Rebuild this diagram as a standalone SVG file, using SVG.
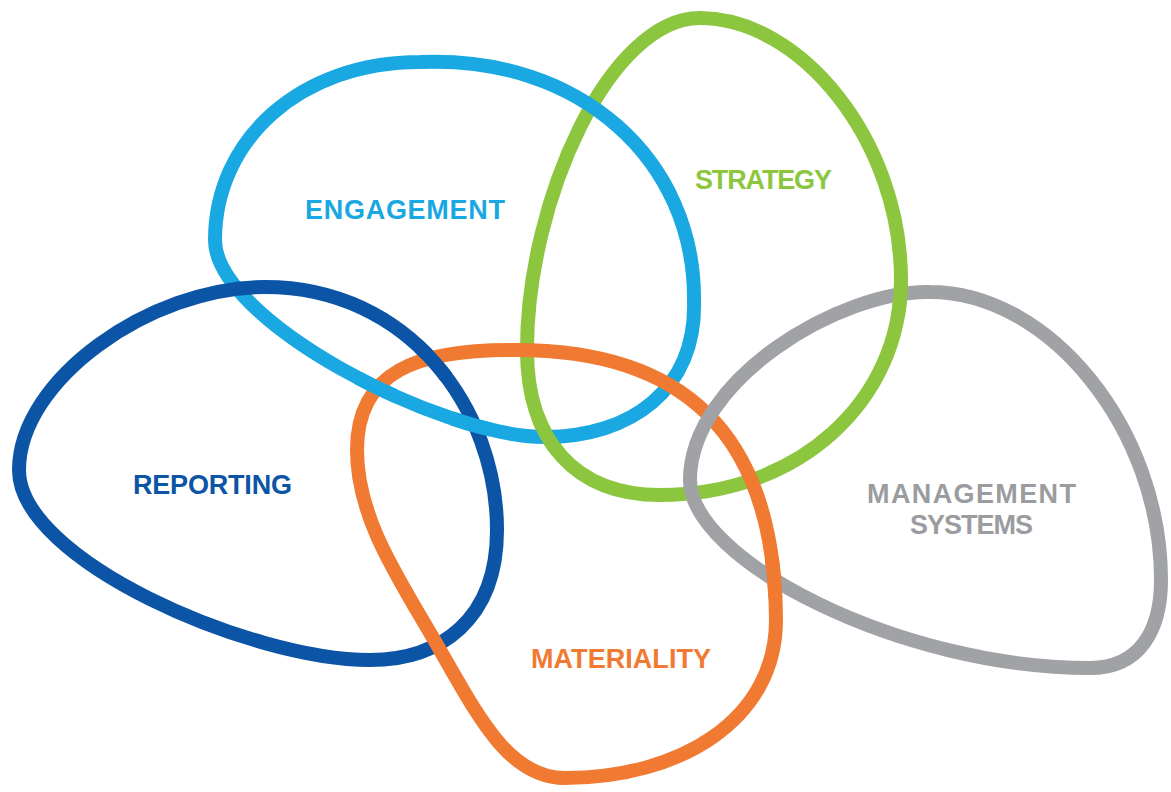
<svg xmlns="http://www.w3.org/2000/svg" xmlns:xlink="http://www.w3.org/1999/xlink" width="1171" height="792" viewBox="0 0 1171 792">
  <style>
    .loop { fill: none; stroke-width: 14; stroke-linejoin: round; }
    .eng { stroke: #19a8e1; }
    .rep { stroke: #0c54a5; }
    .str { stroke: #8cc63f; }
    .mat { stroke: #f17a32; }
    .man { stroke: #a0a2a5; }
    .lbl { font-family: "Liberation Sans", Arial, sans-serif; font-weight: 700; font-size: 27px; }
  </style>
  <defs>
    <path id="p-eng" d="M 420,62 C 580,55 695,160 694,300 C 697,390 630,437 545,437 C 440,437 215,320 215,240 C 215,140 300,62 420,62 Z"/>
    <path id="p-rep" d="M 265,287 C 410,287 497,410 497,530 C 497,620 440,660 370,660 C 250,660 19,560 19,470 C 19,380 150,287 265,287 Z"/>
    <path id="p-str" d="M 700,18 C 610,18 527,200 527,350 C 527,440 575,495 660,495 C 800,495 901,400 901,280 C 901,140 800,18 700,18 Z"/>
    <path id="p-mat" d="M 510,350 C 680,348 775,430 776,620 C 776,720 680,778 565,778 C 510,778 480,720 440,650 C 400,580 357,520 357,450 C 357,370 420,350 510,350 Z"/>
    <path id="p-man" d="M 930,292 C 840,290 690,380 690,480 C 690,560 900,668 1090,668 C 1140,668 1161,630 1161,580 C 1161,430 1050,292 930,292 Z"/>
    <clipPath id="x1"><circle cx="472" cy="424" r="22"/></clipPath>
    <clipPath id="x2"><circle cx="376" cy="388" r="22"/></clipPath>
    <clipPath id="x3"><circle cx="436" cy="359" r="22"/></clipPath>
    <clipPath id="x4"><circle cx="546" cy="435" r="22"/></clipPath>
    <clipPath id="x5"><circle cx="774" cy="578" r="22"/></clipPath>
    <clipPath id="x6"><circle cx="900" cy="295" r="22"/></clipPath>
  </defs>
  <rect width="1171" height="792" fill="#ffffff"/>

  <g id="strategy">
    <use href="#p-str" class="loop str"/>
    <text class="lbl" x="695" y="189" fill="#8cc63f" textLength="137" lengthAdjust="spacing">STRATEGY</text>
  </g>
  <g id="engagement">
    <use href="#p-eng" class="loop eng"/>
    <text class="lbl" x="305" y="219" fill="#19a8e1" textLength="200" lengthAdjust="spacing">ENGAGEMENT</text>
  </g>
  <g id="reporting">
    <use href="#p-rep" class="loop rep"/>
    <text class="lbl" x="133" y="494" fill="#0c54a5" textLength="159" lengthAdjust="spacing">REPORTING</text>
  </g>
  <g id="materiality">
    <use href="#p-mat" class="loop mat"/>
    <text class="lbl" x="531" y="668" fill="#f17a32" textLength="180" lengthAdjust="spacing">MATERIALITY</text>
  </g>
  <g id="management-systems">
    <use href="#p-man" class="loop man"/>
    <text class="lbl" x="867" y="503" fill="#9a9c9f" textLength="209" lengthAdjust="spacing">MANAGEMENT</text>
    <text class="lbl" x="910" y="534" fill="#9a9c9f" textLength="123" lengthAdjust="spacing">SYSTEMS</text>
  </g>

  <g id="crossings">
    <use href="#p-eng" class="loop eng" clip-path="url(#x1)"/>
    <use href="#p-eng" class="loop eng" clip-path="url(#x2)"/>
    <use href="#p-rep" class="loop rep" clip-path="url(#x3)"/>
    <use href="#p-str" class="loop str" clip-path="url(#x4)"/>
    <use href="#p-mat" class="loop mat" clip-path="url(#x5)"/>
    <use href="#p-str" class="loop str" clip-path="url(#x6)"/>
  </g>
</svg>
